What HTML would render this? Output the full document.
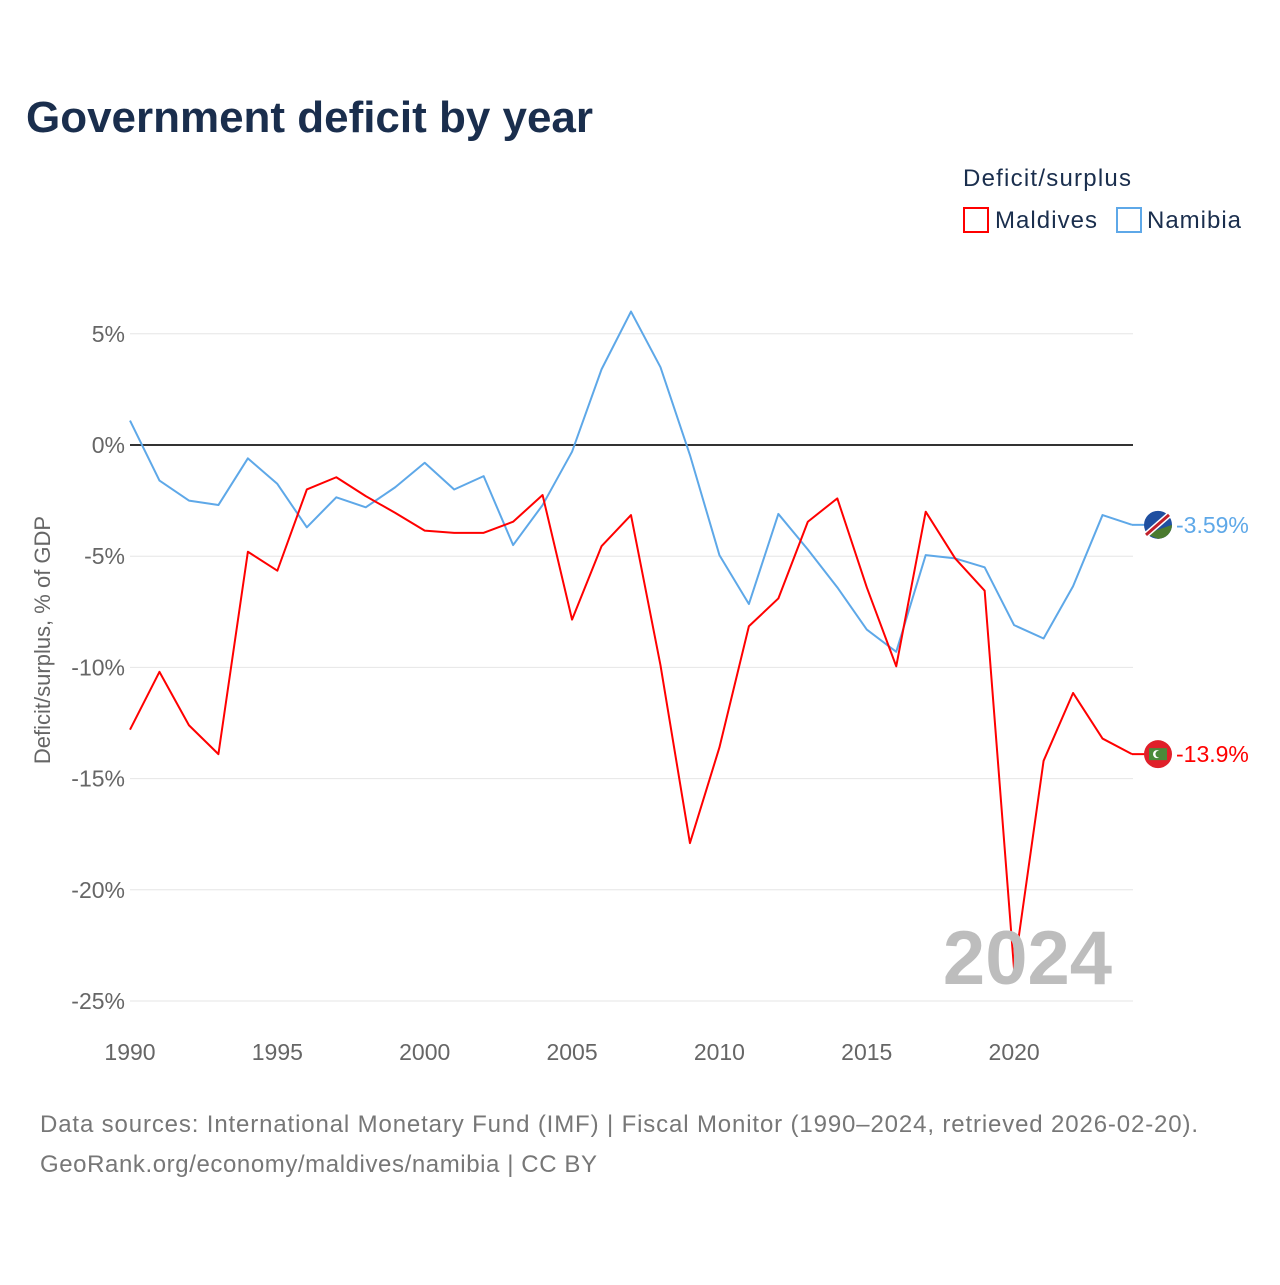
<!DOCTYPE html>
<html><head><meta charset="utf-8">
<style>
body{margin:0;background:#fff;font-family:"Liberation Sans",sans-serif;}
svg text{font-family:"Liberation Sans",sans-serif;}
</style></head>
<body>
<svg id="chart" width="1280" height="1280" xmlns="http://www.w3.org/2000/svg">
<rect width="1280" height="1280" fill="#fff"/>
<text x="26" y="132" font-size="44" font-weight="bold" fill="#1a2e4d" textLength="567">Government deficit by year</text>
<text x="963" y="186" font-size="24" fill="#1a2e4d" textLength="168">Deficit/surplus</text>
<g><rect x="964" y="208" width="24" height="24" fill="none" stroke="#ff0000" stroke-width="2"/><text x="995" y="228" font-size="24" fill="#1a2e4d" textLength="102">Maldives</text></g>
<g><rect x="1117" y="208" width="24" height="24" fill="none" stroke="#5ea8e8" stroke-width="2"/><text x="1147" y="228" font-size="24" fill="#1a2e4d" textLength="94">Namibia</text></g>
<text transform="translate(50,640) rotate(-90)" text-anchor="middle" font-size="22" fill="#666">Deficit/surplus, % of GDP</text>
<g id="grid"></g><g id="series"></g>
<text x="1112" y="984" text-anchor="end" font-size="76" font-weight="bold" fill="#bdbdbd">2024</text>
<text x="40" y="1132" font-size="24" fill="#777" textLength="1158">Data sources: International Monetary Fund (IMF) | Fiscal Monitor (1990–2024, retrieved 2026-02-20).</text>
<text x="40" y="1172" font-size="24" fill="#777" textLength="557">GeoRank.org/economy/maldives/namibia | CC BY</text>
</svg>
<script>
const years=[];for(let y=1990;y<=2024;y++)years.push(y);
const namibia=[1.1,-1.6,-2.5,-2.7,-0.6,-1.75,-3.7,-2.35,-2.8,-1.9,-0.8,-2.0,-1.4,-4.5,-2.7,-0.3,3.4,6.0,3.5,-0.45,-4.95,-7.15,-3.1,-4.7,-6.4,-8.3,-9.3,-4.95,-5.1,-5.5,-8.1,-8.7,-6.35,-3.15,-3.59];
const maldives=[-12.8,-10.2,-12.6,-13.9,-4.8,-5.65,-2.0,-1.45,-2.3,-3.05,-3.85,-3.95,-3.95,-3.45,-2.25,-7.85,-4.55,-3.15,-9.9,-17.9,-13.6,-8.15,-6.9,-3.45,-2.4,-6.4,-9.95,-3.0,-5.1,-6.55,-23.6,-14.2,-11.15,-13.2,-13.9];
const yTicks=[5,0,-5,-10,-15,-20,-25];
const xTicks=[1990,1995,2000,2005,2010,2015,2020];
const NS="http://www.w3.org/2000/svg";
const X=y=>130+(y-1990)*(1002/34);
const Y=v=>445-v*22.24;
function mk(t,a,p){const e=document.createElementNS(NS,t);for(const k in a)e.setAttribute(k,a[k]);p.appendChild(e);return e;}
const g=document.getElementById('grid'),s=document.getElementById('series');
yTicks.forEach(v=>{
 const l=mk('line',{x1:130,x2:1133,y1:Y(v),y2:Y(v),stroke:v===0?'#333':'#e6e6e6','stroke-width':v===0?2:1},g);
 
 
 const t=mk('text',{x:125,y:Y(v)+8,'text-anchor':'end','font-size':23,fill:'#666'},g);t.textContent=v+'%';
 
 
});
xTicks.forEach(v=>{
 const t=mk('text',{x:X(v),y:1060,'text-anchor':'middle','font-size':23,fill:'#666'},g);t.textContent=v;
 
 
});
function line(d,c,name,flag){
 const p=mk('polyline',{points:d.map((v,i)=>X(years[i])+','+Y(v)).join(' '),fill:'none',stroke:c,'stroke-width':2,'stroke-linejoin':'round'},s);
 
 
 const last=d[d.length-1],lx=X(years[years.length-1]),cy=Y(last);
 mk('line',{x1:lx,x2:1146,y1:cy,y2:cy,stroke:c,'stroke-width':2},s);
 const ci=mk('circle',{cx:1158,cy:cy,r:14,fill:flag[0]},s);
 
 
 if(flag[1]==='nam'){
  mk('path',{d:`M1158 ${cy+14} A14 14 0 0 0 1172 ${cy} L1146 ${cy+9} Z`,fill:'#4a7a2e'},s);
  mk('line',{x1:1146,y1:cy+10,x2:1169,y2:cy-10,stroke:'#fff','stroke-width':6},s);
  mk('line',{x1:1146,y1:cy+10,x2:1169,y2:cy-10,stroke:'#c0202a','stroke-width':3},s);
 } else {
  mk('rect',{x:1149,y:cy-6,width:18,height:12,fill:'#4a8a3a'},s);
  mk('circle',{cx:1157,cy:cy,r:4,fill:'#fff'},s);
  mk('circle',{cx:1159,cy:cy,r:3.5,fill:'#4a8a3a'},s);
 }
 const t=mk('text',{x:1176,y:cy+8,'font-size':23,fill:c},s);
 t.textContent=(Math.abs(last)>=10?last.toFixed(1):last.toFixed(2))+'%';
 
 
}
line(namibia,'#5ea8e8','namibia-line',['#1f4fa0','nam']);
line(maldives,'#ff0000','maldives-line',['#e0202a','mdv']);
</script>
</body></html>
